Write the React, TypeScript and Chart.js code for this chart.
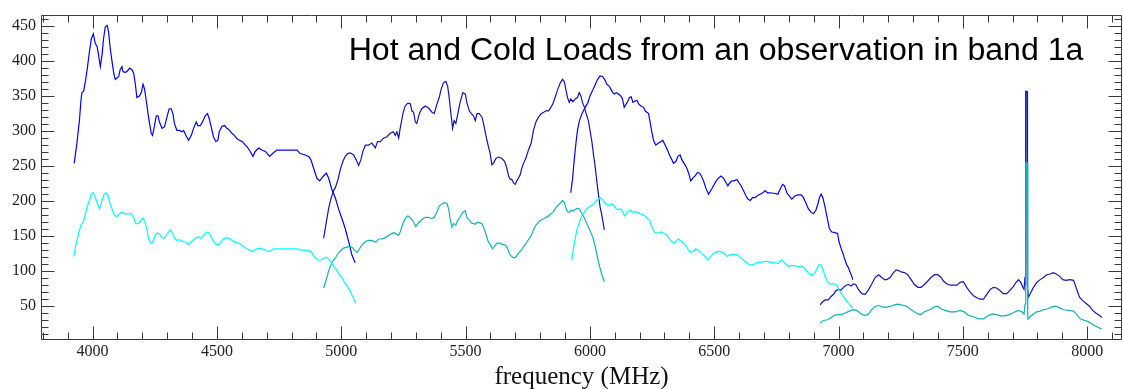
import React, { useEffect, useRef } from 'react';
import { Chart, registerables } from 'chart.js';

Chart.register(...registerables);

// [frequency (MHz), load] pairs for each band segment
const hotSegmentA: [number, number][] = [[3926,254],[3937,283],[3947,315],[3953,343],[3957,355],[3964,357],[3971,371],[3979,390],[3987,413],[3995,432],[4003,439],[4011,425],[4018,421],[4024,409],[4031,392],[4038,409],[4044,432],[4051,449],[4059,451],[4064,442],[4071,418],[4078,400],[4085,383],[4091,374],[4098,376],[4105,378],[4111,388],[4118,392],[4122,385],[4129,384],[4138,385],[4149,390],[4158,388],[4165,383],[4172,367],[4178,348],[4188,350],[4196,355],[4203,367],[4209,360],[4216,343],[4223,325],[4229,311],[4236,297],[4241,294],[4248,306],[4256,322],[4263,322],[4269,313],[4279,304],[4289,306],[4299,320],[4308,332],[4316,332],[4323,325],[4329,311],[4339,301],[4350,301],[4359,299],[4366,301],[4375,294],[4386,287],[4397,294],[4406,304],[4417,313],[4423,308],[4433,308],[4442,313],[4453,322],[4462,325],[4469,318],[4477,306],[4486,292],[4496,285],[4504,287],[4509,299],[4520,307],[4531,308],[4540,304],[4549,302],[4560,297],[4570,294],[4581,289],[4591,287],[4603,285],[4614,280],[4621,278],[4634,271],[4645,264],[4654,271],[4668,276],[4681,273],[4695,271],[4712,264],[4724,268],[4741,273],[4762,273],[4782,273],[4802,273],[4822,273],[4835,268],[4855,266],[4869,264],[4878,259],[4889,247],[4902,233],[4913,229],[4929,236],[4940,240],[4949,233],[4962,217],[4976,205],[4989,189],[5003,175],[5016,161],[5030,142],[5043,123],[5056,112]];

const hotSegmentB: [number, number][] = [[4929,147],[4940,170],[4949,189],[4958,203],[4969,215],[4976,219],[4987,231],[4996,245],[5007,257],[5016,264],[5026,268],[5036,269],[5050,266],[5060,259],[5070,251],[5079,259],[5087,271],[5097,280],[5110,280],[5123,283],[5137,276],[5146,285],[5157,285],[5170,290],[5184,292],[5197,297],[5210,299],[5217,294],[5224,299],[5231,290],[5237,304],[5248,325],[5257,336],[5268,340],[5278,339],[5284,329],[5291,327],[5298,313],[5304,311],[5314,325],[5324,332],[5338,336],[5351,333],[5365,327],[5374,325],[5385,339],[5394,348],[5402,360],[5411,369],[5421,371],[5428,364],[5434,348],[5441,325],[5448,304],[5454,315],[5461,311],[5469,325],[5478,341],[5489,355],[5499,353],[5505,341],[5515,329],[5523,325],[5532,322],[5539,315],[5546,325],[5555,325],[5566,320],[5572,311],[5579,299],[5586,287],[5592,278],[5599,268],[5606,252],[5612,254],[5622,261],[5633,263],[5646,261],[5657,257],[5666,247],[5673,236],[5680,231],[5686,231],[5693,226],[5700,224],[5706,229],[5713,233],[5720,238],[5726,247],[5733,254],[5742,261],[5753,273],[5764,283],[5773,301],[5783,313],[5793,320],[5804,325],[5814,327],[5823,329],[5834,329],[5843,334],[5851,339],[5860,348],[5871,360],[5881,369],[5890,374],[5897,371],[5903,360],[5910,348],[5917,341],[5923,346],[5932,342],[5941,346],[5950,348],[5957,355],[5964,350],[5970,341],[5978,334],[5985,325],[5994,315],[6001,300],[6008,285],[6015,265],[6021,250],[6028,228],[6035,208],[6041,192],[6048,180],[6058,159]];

const hotSegmentC: [number, number][] = [[5923,212],[5930,231],[5937,259],[5944,283],[5950,301],[5958,315],[5968,325],[5974,329],[5981,334],[5992,341],[6001,351],[6012,359],[6021,366],[6031,374],[6041,379],[6051,378],[6059,374],[6068,367],[6078,364],[6084,360],[6092,355],[6099,353],[6106,355],[6115,353],[6125,350],[6131,346],[6138,334],[6146,339],[6153,343],[6159,348],[6166,349],[6173,341],[6182,343],[6189,344],[6196,339],[6205,336],[6216,334],[6222,329],[6229,327],[6236,325],[6243,311],[6249,299],[6256,287],[6265,280],[6276,283],[6285,285],[6293,287],[6303,280],[6312,273],[6320,266],[6330,259],[6336,254],[6346,257],[6354,264],[6363,266],[6370,259],[6379,254],[6390,247],[6397,240],[6406,229],[6414,233],[6423,236],[6433,241],[6441,240],[6448,236],[6457,229],[6466,219],[6477,210],[6486,215],[6497,222],[6508,229],[6517,233],[6527,236],[6537,233],[6548,226],[6555,222],[6562,226],[6571,229],[6580,229],[6591,231],[6600,226],[6608,222],[6618,215],[6627,208],[6635,203],[6645,201],[6654,205],[6665,205],[6674,208],[6685,210],[6696,212],[6705,215],[6714,212],[6725,212],[6745,211],[6756,210],[6765,217],[6775,224],[6783,222],[6792,212],[6801,208],[6812,203],[6823,207],[6836,209],[6850,209],[6859,205],[6868,198],[6879,189],[6890,184],[6899,182],[6909,187],[6917,196],[6923,205],[6930,210],[6937,205],[6946,191],[6955,175],[6963,161],[6973,156],[6986,155],[6996,154],[7002,142],[7010,133],[7020,123],[7026,116],[7033,109],[7040,105],[7047,98],[7053,93],[7057,88]];

const hotSegmentD: [number, number][] = [[6926,52],[6935,56],[6946,59],[6959,59],[6970,64],[6980,67],[6989,72],[7000,74],[7010,73],[7020,77],[7030,80],[7040,81],[7051,79],[7060,82],[7069,81],[7080,74],[7093,68],[7107,67],[7120,73],[7134,82],[7147,91],[7161,95],[7174,91],[7185,88],[7194,88],[7207,91],[7221,98],[7232,102],[7241,101],[7252,99],[7265,98],[7278,95],[7292,88],[7305,81],[7319,77],[7332,77],[7345,81],[7359,86],[7372,91],[7386,95],[7399,95],[7413,91],[7422,86],[7435,82],[7449,80],[7462,80],[7476,80],[7489,84],[7502,85],[7516,77],[7529,70],[7543,65],[7556,62],[7569,60],[7583,60],[7596,67],[7610,74],[7623,77],[7636,76],[7650,72],[7663,68],[7677,68],[7690,73],[7703,78],[7714,84],[7724,88],[7733,84],[7741,77],[7746,74],[7750,92],[7752,80],[7753,357],[7758,357],[7759,90],[7761,75],[7764,63],[7770,67],[7784,77],[7797,84],[7811,88],[7824,91],[7837,95],[7851,96],[7864,98],[7875,96],[7888,93],[7902,88],[7915,87],[7931,88],[7945,87],[7955,77],[7969,63],[7982,58],[7996,54],[8009,50],[8022,44],[8036,40],[8049,37],[8059,34]];

const coldSegmentA: [number, number][] = [[3924,121],[3933,138],[3944,154],[3953,166],[3961,169],[3968,177],[3977,191],[3987,201],[3995,210],[4003,212],[4011,205],[4020,196],[4028,189],[4038,201],[4046,210],[4054,212],[4062,208],[4069,198],[4078,189],[4087,180],[4096,178],[4105,180],[4114,184],[4121,184],[4129,182],[4138,182],[4148,182],[4156,182],[4165,177],[4174,168],[4185,168],[4194,173],[4203,176],[4212,169],[4219,159],[4225,147],[4235,140],[4243,142],[4252,152],[4261,155],[4269,153],[4279,148],[4288,147],[4296,151],[4306,156],[4315,159],[4322,154],[4330,147],[4339,144],[4348,145],[4359,143],[4368,142],[4377,141],[4386,138],[4397,142],[4406,145],[4417,148],[4426,149],[4436,147],[4446,151],[4456,155],[4464,156],[4470,154],[4480,147],[4489,141],[4497,138],[4507,138],[4516,142],[4525,146],[4536,148],[4547,147],[4557,145],[4567,142],[4576,142],[4587,140],[4597,138],[4607,135],[4621,132],[4634,130],[4645,128],[4654,131],[4668,133],[4681,132],[4695,130],[4712,128],[4728,132],[4748,132],[4768,132],[4795,132],[4822,132],[4842,130],[4862,130],[4878,128],[4891,121],[4905,116],[4918,116],[4932,119],[4942,120],[4953,116],[4963,110],[4972,106],[4983,101],[4993,95],[5003,91],[5012,85],[5023,79],[5034,73],[5043,66],[5052,59],[5059,54]];

const coldSegmentB: [number, number][] = [[4929,76],[4940,88],[4949,100],[4958,109],[4969,116],[4980,121],[4989,126],[4999,130],[5009,133],[5020,134],[5030,135],[5039,135],[5047,133],[5056,129],[5063,127],[5070,130],[5079,135],[5090,140],[5101,143],[5110,144],[5123,144],[5133,142],[5141,142],[5150,146],[5164,146],[5177,148],[5190,151],[5204,154],[5213,155],[5221,153],[5231,151],[5237,156],[5247,167],[5257,175],[5268,179],[5278,176],[5284,174],[5291,170],[5300,164],[5308,168],[5318,171],[5324,174],[5338,177],[5351,177],[5365,175],[5374,177],[5385,185],[5394,193],[5405,196],[5414,198],[5425,197],[5432,189],[5438,175],[5445,163],[5452,168],[5461,166],[5469,173],[5478,177],[5488,184],[5499,186],[5505,177],[5515,173],[5523,169],[5532,168],[5539,167],[5548,170],[5559,169],[5568,167],[5576,159],[5583,152],[5590,143],[5599,138],[5608,132],[5616,135],[5626,140],[5639,140],[5649,138],[5657,138],[5666,135],[5673,128],[5680,123],[5689,120],[5697,119],[5704,121],[5713,126],[5724,130],[5733,135],[5744,140],[5753,145],[5764,151],[5773,159],[5783,166],[5793,170],[5804,173],[5814,175],[5823,177],[5834,179],[5843,182],[5851,184],[5860,189],[5871,194],[5881,197],[5890,201],[5897,198],[5903,191],[5910,185],[5917,184],[5923,187],[5932,186],[5941,188],[5950,190],[5957,189],[5964,185],[5970,181],[5978,176],[5985,170],[5994,163],[6003,156],[6011,149],[6021,136],[6031,119],[6039,107],[6048,95],[6058,85]];

const coldSegmentC: [number, number][] = [[5927,116],[5934,133],[5941,147],[5948,159],[5954,166],[5961,173],[5968,179],[5977,184],[5985,188],[5994,191],[6004,193],[6015,196],[6028,201],[6041,205],[6051,203],[6059,198],[6068,195],[6078,194],[6086,196],[6095,195],[6106,189],[6115,188],[6125,189],[6133,184],[6139,179],[6146,182],[6155,186],[6165,187],[6173,184],[6182,185],[6192,184],[6202,182],[6213,181],[6222,179],[6232,175],[6240,173],[6249,163],[6259,156],[6269,154],[6280,155],[6289,156],[6299,154],[6310,151],[6319,147],[6330,142],[6339,140],[6347,143],[6356,146],[6366,143],[6377,140],[6386,137],[6397,130],[6406,127],[6417,129],[6426,132],[6434,130],[6444,128],[6453,124],[6464,121],[6474,116],[6484,120],[6494,124],[6504,127],[6513,128],[6524,128],[6535,127],[6544,124],[6553,121],[6561,123],[6571,124],[6580,124],[6591,124],[6600,121],[6611,118],[6620,115],[6631,112],[6642,109],[6651,109],[6662,110],[6671,112],[6682,113],[6692,113],[6702,114],[6712,114],[6725,113],[6745,112],[6758,111],[6769,116],[6778,114],[6788,110],[6799,107],[6809,108],[6823,108],[6836,107],[6850,107],[6862,105],[6872,100],[6883,96],[6895,94],[6906,98],[6915,105],[6923,110],[6930,109],[6937,102],[6946,93],[6957,84],[6966,82],[6980,82],[6993,80],[7002,74],[7013,67],[7024,62],[7033,57],[7043,53],[7051,50],[7057,47]];

const coldSegmentD: [number, number][] = [[6926,26],[6935,29],[6946,30],[6959,31],[6970,34],[6984,37],[6997,38],[7010,38],[7024,40],[7037,42],[7051,44],[7064,45],[7077,43],[7091,39],[7104,37],[7118,38],[7131,44],[7144,49],[7158,51],[7171,50],[7185,48],[7198,49],[7211,50],[7225,52],[7238,53],[7252,52],[7265,51],[7278,49],[7292,45],[7305,42],[7319,39],[7332,38],[7345,42],[7359,44],[7372,46],[7386,49],[7399,50],[7413,46],[7429,44],[7449,42],[7469,42],[7489,44],[7505,42],[7522,37],[7543,35],[7563,32],[7583,32],[7603,37],[7620,39],[7636,38],[7656,36],[7677,37],[7693,39],[7710,42],[7724,44],[7737,42],[7746,39],[7750,53],[7753,255],[7758,255],[7761,32],[7764,32],[7770,35],[7784,39],[7797,42],[7811,43],[7824,45],[7840,46],[7858,49],[7871,50],[7888,48],[7904,45],[7925,44],[7945,43],[7958,38],[7972,32],[7988,30],[8005,28],[8022,24],[8038,21],[8059,17]];

const xTickValues = [4000, 4500, 5000, 5500, 6000, 6500, 7000, 7500, 8000];
const yTickValues = [50, 100, 150, 200, 250, 300, 350, 400, 450];
const chartTitle = 'Hot and Cold Loads from an observation in band 1a';
const xAxisTitle = 'frequency (MHz)';

const toPoints = (seg: [number, number][]) => seg.map(([x, y]) => ({ x, y }));

const frameAndTitlePlugin = {
  id: 'frameAndTitle',
  afterDraw(chart: any) {
    const { ctx, chartArea, scales } = chart;
    const xs = scales.x;
    const ys = scales.y;
    const L = Math.round(chartArea.left) - 0.5;
    const R = Math.round(chartArea.right) + 0.5;
    const T = Math.round(chartArea.top) - 0.5;
    const B = Math.round(chartArea.bottom) + 0.5;
    ctx.save();
    ctx.strokeStyle = '#3a3a3a';
    ctx.lineWidth = 1;
    ctx.beginPath();
    ctx.rect(L, T, R - L, B - T);
    // x ticks
    for (let f = 3800; f <= 8100; f += 100) {
      const major = xTickValues.includes(f);
      const len = major ? 13 : 7;
      const px = Math.round(xs.getPixelForValue(f)) + 0.5;
      if (px < L || px > R) continue;
      ctx.moveTo(px, B);
      ctx.lineTo(px, B - len);
      ctx.moveTo(px, T);
      ctx.lineTo(px, T + len);
    }
    // y ticks
    for (let v = 10; v <= 460; v += 10) {
      const major = yTickValues.includes(v);
      const len = major ? 13 : 7;
      const py = Math.round(ys.getPixelForValue(v)) + 0.5;
      if (py < T || py > B) continue;
      ctx.moveTo(L, py);
      ctx.lineTo(L + len, py);
      ctx.moveTo(R, py);
      ctx.lineTo(R - len, py);
    }
    ctx.stroke();
    ctx.fillStyle = '#000';
    ctx.font = '32.1px "Liberation Sans", Arial, sans-serif';
    ctx.textAlign = 'center';
    ctx.textBaseline = 'alphabetic';
    ctx.fillText(chartTitle, 716, 60);
    ctx.restore();
  },
};

export default function App() {
  const ref = useRef<HTMLCanvasElement>(null);
  useEffect(() => {
    if (!ref.current) return;
    const hotColorBright = '#0000ff';
    const hotColorDark = '#1414b4';
    const coldColorBright = '#00ffff';
    const coldColorDark = '#10b4b4';
    const mk = (seg: [number, number][], color: string, order: number) => ({
      data: toPoints(seg),
      borderColor: color,
      backgroundColor: color,
      borderWidth: 1.2,
      pointRadius: 0,
      tension: 0,
      fill: false,
      order,
    });
    const chart = new Chart(ref.current, {
      type: 'line',
      data: {
        datasets: [
          mk(hotSegmentA, hotColorBright, 1),
          mk(hotSegmentB, hotColorDark, 1),
          mk(hotSegmentC, hotColorBright, 1),
          mk(hotSegmentD, hotColorDark, 1),
          mk(coldSegmentA, coldColorBright, 0),
          mk(coldSegmentB, coldColorDark, 0),
          mk(coldSegmentC, coldColorBright, 0),
          mk(coldSegmentD, coldColorDark, 0),
        ],
      },
      options: {
        responsive: false,
        animation: false,
        layout: { padding: { left: 0, top: 10, right: 2, bottom: 0 } },
        plugins: { legend: { display: false }, tooltip: { enabled: false }, title: { display: false } },
        scales: {
          x: {
            type: 'linear',
            position: 'bottom',
            min: 3796.5,
            max: 8136,
            grid: { display: false, drawTicks: false },
            border: { display: false },
            afterBuildTicks: (scale: any) => {
              scale.ticks = xTickValues.map((value) => ({ value }));
            },
            afterFit: (scale: any) => {
              scale.height = 50;
            },
            ticks: {
              padding: 3,
              maxRotation: 0,
              autoSkip: false,
              color: '#222',
              font: { family: '"Liberation Serif", "Times New Roman", serif', size: 16 },
              callback: (v: any) => String(v),
            },
            title: {
              display: true,
              text: xAxisTitle,
              color: '#111',
              padding: { top: 0, bottom: 0 },
              font: { family: '"Liberation Serif", "Times New Roman", serif', size: 25, lineHeight: 0.96 },
            },
          },
          y: {
            type: 'linear',
            position: 'left',
            min: 3.2,
            max: 465,
            grid: { display: false, drawTicks: false },
            border: { display: false },
            afterBuildTicks: (scale: any) => {
              scale.ticks = yTickValues.map((value) => ({ value }));
            },
            afterFit: (scale: any) => {
              scale.width = 42;
            },
            ticks: {
              padding: 6,
              color: '#222',
              font: { family: '"Liberation Serif", "Times New Roman", serif', size: 16 },
              callback: (v: any) => String(v),
            },
          },
        },
      },
      plugins: [frameAndTitlePlugin],
    });
    return () => chart.destroy();
  }, []);
  return (
    <div style={{ position: 'fixed', left: 0, top: 0, width: 1123, height: 389, background: '#fff' }}>
      <canvas ref={ref} width={1123} height={389} style={{ display: 'block', width: 1123, height: 389 }} />
    </div>
  );
}
